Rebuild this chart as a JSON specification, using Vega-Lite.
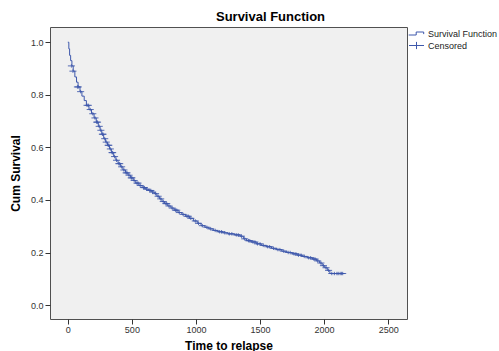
{
  "$schema": "https://vega.github.io/schema/vega-lite/v6.json",
  "autosize": "none",
  "width": 357,
  "height": 292,
  "padding": {"left": 50, "top": 27, "right": 92, "bottom": 32},
  "background": "white",
  "title": {"text": "Survival Function", "font": "Liberation Sans", "fontSize": 13, "fontWeight": "bold", "color": "#000", "anchor": "middle", "dx": 42, "offset": 3},
  "config": {
    "view": {"fill": "#f0f0f0", "stroke": "#505050", "strokeWidth": 1},
    "axis": {"grid": false, "domain": false, "tickColor": "#333", "tickSize": 5, "labelFont": "Liberation Sans", "labelFontSize": 9, "labelColor": "#333", "titleFont": "Liberation Sans", "titleFontSize": 12, "titleFontWeight": "bold", "titleColor": "#000"},
    "legend": {"labelFont": "Liberation Sans", "labelFontSize": 9, "labelColor": "#222"}
  },
  "datasets": {
    "curve": [
      {"t": 0, "s": 1.0}, {"t": 8, "s": 0.975}, {"t": 14, "s": 0.95}, {"t": 22, "s": 0.93}, {"t": 32, "s": 0.91},
      {"t": 42, "s": 0.89}, {"t": 55, "s": 0.868}, {"t": 68, "s": 0.848}, {"t": 80, "s": 0.83}, {"t": 95, "s": 0.812},
      {"t": 110, "s": 0.795}, {"t": 128, "s": 0.778}, {"t": 145, "s": 0.76}, {"t": 165, "s": 0.744}, {"t": 185, "s": 0.728},
      {"t": 205, "s": 0.712}, {"t": 222, "s": 0.696}, {"t": 238, "s": 0.68}, {"t": 252, "s": 0.665}, {"t": 265, "s": 0.65},
      {"t": 280, "s": 0.633}, {"t": 295, "s": 0.62}, {"t": 310, "s": 0.608}, {"t": 325, "s": 0.594}, {"t": 340, "s": 0.58},
      {"t": 358, "s": 0.565}, {"t": 375, "s": 0.551}, {"t": 392, "s": 0.538}, {"t": 410, "s": 0.526}, {"t": 430, "s": 0.514},
      {"t": 450, "s": 0.503}, {"t": 470, "s": 0.494}, {"t": 490, "s": 0.484}, {"t": 510, "s": 0.474}, {"t": 530, "s": 0.464},
      {"t": 555, "s": 0.455}, {"t": 580, "s": 0.447}, {"t": 605, "s": 0.441}, {"t": 630, "s": 0.436}, {"t": 655, "s": 0.43},
      {"t": 675, "s": 0.424}, {"t": 695, "s": 0.414}, {"t": 715, "s": 0.404}, {"t": 735, "s": 0.394}, {"t": 755, "s": 0.386},
      {"t": 780, "s": 0.377}, {"t": 805, "s": 0.369}, {"t": 830, "s": 0.361}, {"t": 860, "s": 0.352}, {"t": 890, "s": 0.345},
      {"t": 920, "s": 0.338}, {"t": 950, "s": 0.33}, {"t": 980, "s": 0.32}, {"t": 1010, "s": 0.311}, {"t": 1040, "s": 0.302},
      {"t": 1070, "s": 0.296}, {"t": 1100, "s": 0.29}, {"t": 1135, "s": 0.284}, {"t": 1170, "s": 0.279}, {"t": 1210, "s": 0.275},
      {"t": 1250, "s": 0.271}, {"t": 1300, "s": 0.267}, {"t": 1345, "s": 0.262}, {"t": 1370, "s": 0.252}, {"t": 1395, "s": 0.245},
      {"t": 1430, "s": 0.24}, {"t": 1470, "s": 0.233}, {"t": 1510, "s": 0.227}, {"t": 1550, "s": 0.222}, {"t": 1590, "s": 0.216},
      {"t": 1630, "s": 0.211}, {"t": 1670, "s": 0.205}, {"t": 1710, "s": 0.2}, {"t": 1750, "s": 0.195}, {"t": 1790, "s": 0.19},
      {"t": 1830, "s": 0.185}, {"t": 1870, "s": 0.18}, {"t": 1910, "s": 0.175}, {"t": 1940, "s": 0.168}, {"t": 1965, "s": 0.16},
      {"t": 1985, "s": 0.15}, {"t": 2005, "s": 0.142}, {"t": 2025, "s": 0.132}, {"t": 2045, "s": 0.12}, {"t": 2150, "s": 0.12}
    ],
    "censored": [
      {"t": 28, "s": 0.91, "series": "Censored"}, {"t": 40, "s": 0.89, "series": "Censored"}, {"t": 75, "s": 0.83, "series": "Censored"},
      {"t": 82, "s": 0.83, "series": "Censored"}, {"t": 100, "s": 0.812, "series": "Censored"}, {"t": 150, "s": 0.76, "series": "Censored"},
      {"t": 160, "s": 0.76, "series": "Censored"}, {"t": 175, "s": 0.744, "series": "Censored"}, {"t": 195, "s": 0.728, "series": "Censored"},
      {"t": 212, "s": 0.712, "series": "Censored"}, {"t": 225, "s": 0.696, "series": "Censored"}, {"t": 232, "s": 0.696, "series": "Censored"},
      {"t": 245, "s": 0.68, "series": "Censored"}, {"t": 258, "s": 0.665, "series": "Censored"}, {"t": 270, "s": 0.65, "series": "Censored"},
      {"t": 275, "s": 0.65, "series": "Censored"}, {"t": 288, "s": 0.633, "series": "Censored"}, {"t": 300, "s": 0.62, "series": "Censored"},
      {"t": 315, "s": 0.608, "series": "Censored"}, {"t": 320, "s": 0.608, "series": "Censored"}, {"t": 332, "s": 0.594, "series": "Censored"},
      {"t": 345, "s": 0.58, "series": "Censored"}, {"t": 350, "s": 0.58, "series": "Censored"}, {"t": 365, "s": 0.565, "series": "Censored"},
      {"t": 380, "s": 0.551, "series": "Censored"}, {"t": 398, "s": 0.538, "series": "Censored"}, {"t": 405, "s": 0.538, "series": "Censored"},
      {"t": 420, "s": 0.526, "series": "Censored"}, {"t": 438, "s": 0.514, "series": "Censored"}, {"t": 455, "s": 0.503, "series": "Censored"},
      {"t": 462, "s": 0.503, "series": "Censored"}, {"t": 478, "s": 0.494, "series": "Censored"}, {"t": 495, "s": 0.484, "series": "Censored"},
      {"t": 500, "s": 0.484, "series": "Censored"}, {"t": 518, "s": 0.474, "series": "Censored"}, {"t": 540, "s": 0.464, "series": "Censored"},
      {"t": 548, "s": 0.464, "series": "Censored"}, {"t": 565, "s": 0.455, "series": "Censored"}, {"t": 590, "s": 0.447, "series": "Censored"},
      {"t": 598, "s": 0.447, "series": "Censored"}, {"t": 615, "s": 0.441, "series": "Censored"}, {"t": 640, "s": 0.436, "series": "Censored"},
      {"t": 648, "s": 0.436, "series": "Censored"}, {"t": 662, "s": 0.43, "series": "Censored"}, {"t": 685, "s": 0.424, "series": "Censored"},
      {"t": 705, "s": 0.414, "series": "Censored"}, {"t": 725, "s": 0.404, "series": "Censored"}, {"t": 745, "s": 0.394, "series": "Censored"},
      {"t": 765, "s": 0.386, "series": "Censored"}, {"t": 772, "s": 0.386, "series": "Censored"}, {"t": 790, "s": 0.377, "series": "Censored"},
      {"t": 815, "s": 0.369, "series": "Censored"}, {"t": 840, "s": 0.361, "series": "Censored"}, {"t": 850, "s": 0.361, "series": "Censored"},
      {"t": 870, "s": 0.352, "series": "Censored"}, {"t": 900, "s": 0.345, "series": "Censored"}, {"t": 930, "s": 0.338, "series": "Censored"},
      {"t": 940, "s": 0.338, "series": "Censored"}, {"t": 960, "s": 0.33, "series": "Censored"}, {"t": 995, "s": 0.32, "series": "Censored"},
      {"t": 1020, "s": 0.311, "series": "Censored"}, {"t": 1050, "s": 0.302, "series": "Censored"}, {"t": 1085, "s": 0.296, "series": "Censored"},
      {"t": 1115, "s": 0.29, "series": "Censored"}, {"t": 1150, "s": 0.284, "series": "Censored"}, {"t": 1185, "s": 0.279, "series": "Censored"},
      {"t": 1200, "s": 0.279, "series": "Censored"}, {"t": 1225, "s": 0.275, "series": "Censored"}, {"t": 1260, "s": 0.271, "series": "Censored"},
      {"t": 1280, "s": 0.271, "series": "Censored"}, {"t": 1315, "s": 0.267, "series": "Censored"}, {"t": 1330, "s": 0.267, "series": "Censored"},
      {"t": 1355, "s": 0.262, "series": "Censored"}, {"t": 1380, "s": 0.252, "series": "Censored"}, {"t": 1410, "s": 0.245, "series": "Censored"},
      {"t": 1420, "s": 0.245, "series": "Censored"}, {"t": 1445, "s": 0.24, "series": "Censored"}, {"t": 1460, "s": 0.24, "series": "Censored"},
      {"t": 1480, "s": 0.233, "series": "Censored"}, {"t": 1500, "s": 0.233, "series": "Censored"}, {"t": 1525, "s": 0.227, "series": "Censored"},
      {"t": 1560, "s": 0.222, "series": "Censored"}, {"t": 1575, "s": 0.222, "series": "Censored"}, {"t": 1605, "s": 0.216, "series": "Censored"},
      {"t": 1640, "s": 0.211, "series": "Censored"}, {"t": 1655, "s": 0.211, "series": "Censored"}, {"t": 1685, "s": 0.205, "series": "Censored"},
      {"t": 1720, "s": 0.2, "series": "Censored"}, {"t": 1735, "s": 0.2, "series": "Censored"}, {"t": 1765, "s": 0.195, "series": "Censored"},
      {"t": 1780, "s": 0.195, "series": "Censored"}, {"t": 1800, "s": 0.19, "series": "Censored"}, {"t": 1820, "s": 0.19, "series": "Censored"},
      {"t": 1845, "s": 0.185, "series": "Censored"}, {"t": 1880, "s": 0.18, "series": "Censored"}, {"t": 1895, "s": 0.18, "series": "Censored"},
      {"t": 1920, "s": 0.175, "series": "Censored"}, {"t": 1930, "s": 0.175, "series": "Censored"}, {"t": 1950, "s": 0.168, "series": "Censored"},
      {"t": 1975, "s": 0.16, "series": "Censored"}, {"t": 1995, "s": 0.15, "series": "Censored"}, {"t": 2015, "s": 0.142, "series": "Censored"},
      {"t": 2035, "s": 0.132, "series": "Censored"}, {"t": 2060, "s": 0.12, "series": "Censored"}, {"t": 2080, "s": 0.12, "series": "Censored"},
      {"t": 2100, "s": 0.12, "series": "Censored"}, {"t": 2110, "s": 0.12, "series": "Censored"}, {"t": 2125, "s": 0.12, "series": "Censored"},
      {"t": 2135, "s": 0.12, "series": "Censored"}, {"t": 2145, "s": 0.12, "series": "Censored"}
    ]
  },
  "encoding": {
    "x": {"field": "t", "type": "quantitative", "scale": {"domain": [-139, 2647], "nice": false, "zero": false},
      "axis": {"values": [0, 500, 1000, 1500, 2000, 2500], "format": "d", "title": "Time to relapse", "labelPadding": 1, "titlePadding": 6}},
    "y": {"field": "s", "type": "quantitative", "scale": {"domain": [-0.053, 1.058], "nice": false, "zero": false},
      "axis": {"values": [0, 0.2, 0.4, 0.6, 0.8, 1.0], "format": ".1f", "title": "Cum Survival", "labelPadding": 2, "titlePadding": 8}}
  },
  "layer": [
    {
      "data": {"name": "curve"},
      "mark": {"type": "line", "interpolate": "step-after", "color": "#3e58ac", "strokeWidth": 1}
    },
    {
      "data": {"name": "censored"},
      "mark": {"type": "point", "filled": false, "size": 8, "strokeWidth": 1, "color": "#3e58ac", "opacity": 0.85},
      "encoding": {
        "shape": {"field": "series", "type": "nominal",
          "scale": {"domain": ["Survival Function", "Censored"], "range": ["M-2.6,0.5H-0.1V-0.5H2.4V0.2", "M-2.5,0H2.5M0,-1.2V1.2"]},
          "legend": {"title": null, "orient": "none", "legendX": 362, "legendY": 2, "symbolSize": 36, "symbolStrokeColor": "#3e58ac", "symbolStrokeWidth": 1, "symbolOpacity": 1, "labelOffset": 7, "rowPadding": 0, "padding": 0}
        }
      }
    }
  ]
}
